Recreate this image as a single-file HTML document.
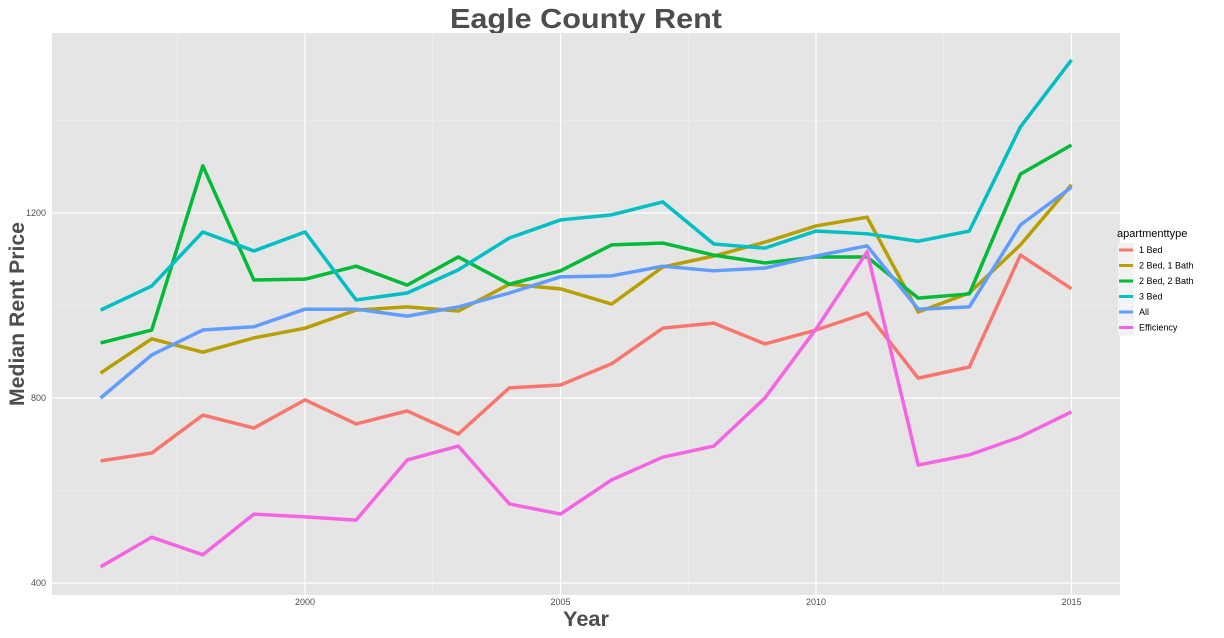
<!DOCTYPE html>
<html><head><meta charset="utf-8"><style>
body{margin:0;background:#fff;font-family:"Liberation Sans",sans-serif;}
svg text{font-family:"Liberation Sans",sans-serif;}
</style></head><body>
<svg id="chart" width="1224" height="633" xmlns="http://www.w3.org/2000/svg">
<text x="586" y="28" text-anchor="middle" font-size="28" font-weight="bold" fill="#4d4d4d" textLength="272" lengthAdjust="spacingAndGlyphs">Eagle County Rent</text>
<rect x="52" y="33" width="1068" height="562" fill="#E5E5E5"/>
<g id="grid"></g>
<g id="lines"></g>
<g id="axes"></g>
<text x="586" y="626" text-anchor="middle" font-size="21" font-weight="bold" fill="#4d4d4d" textLength="46" lengthAdjust="spacingAndGlyphs">Year</text>
<text transform="translate(24,314) rotate(-90)" text-anchor="middle" font-size="21" font-weight="bold" fill="#4d4d4d" textLength="184" lengthAdjust="spacingAndGlyphs">Median Rent Price</text>
<g id="legend"><text x="1117" y="237" font-size="11" fill="#000">apartmenttype</text></g>
</svg>
<script>
const years=[1996,1997,1998,1999,2000,2001,2002,2003,2004,2005,2006,2007,2008,2009,2010,2011,2012,2013,2014,2015];
const seriesNames=["1 Bed","2 Bed, 1 Bath","2 Bed, 2 Bath","3 Bed","All","Efficiency"];
const colors=["#F8766D","#B79F00","#00BA38","#00BFC4","#619CFF","#F564E3"];
const oneBed=[664,681,763,735,796,744,772,722,822,828,874,951,962,917,947,984,843,867,1109,1036];
const twoBedOneBath=[854,928,899,930,951,990,997,988,1046,1036,1003,1083,1107,1137,1172,1191,986,1027,1131,1261];
const twoBedTwoBath=[919,947,1302,1055,1057,1085,1044,1105,1046,1075,1131,1135,1109,1092,1105,1105,1016,1025,1284,1347];
const threeBed=[990,1042,1159,1118,1159,1012,1027,1077,1146,1185,1196,1224,1133,1124,1161,1155,1139,1161,1386,1531];
const allUnits=[800,893,947,954,992,992,977,997,1027,1062,1064,1085,1075,1081,1107,1129,992,997,1174,1256];
const efficiency=[435,499,461,549,543,536,666,696,571,549,623,672,696,800,949,1116,655,677,716,770];
const yTicks=[400,800,1200];
const xTicks=[2000,2005,2010,2015];
const series=[oneBed,twoBedOneBath,twoBedTwoBath,threeBed,allUnits,efficiency];
const NS="http://www.w3.org/2000/svg";
const xs=y=>305+(y-2000)*51.1;
const ys=v=>583-(v-400)*0.4625;
function mk(t,a,p){const e=document.createElementNS(NS,t);for(const k in a)e.setAttribute(k,a[k]);p.appendChild(e);return e;}
const g=document.getElementById('grid'),ax=document.getElementById('axes'),L=document.getElementById('lines'),lg=document.getElementById('legend');
[600,1000,1400].forEach(v=>{const l=mk('line',{x1:52,x2:1120,y1:ys(v),y2:ys(v),stroke:'#F2F2F2','stroke-width':0.6},g);

});
[1997.5,2002.5,2007.5,2012.5].forEach(v=>{const l=mk('line',{x1:xs(v),x2:xs(v),y1:33,y2:595,stroke:'#F2F2F2','stroke-width':0.6},g);

});
yTicks.forEach(v=>{const l=mk('line',{x1:52,x2:1120,y1:ys(v),y2:ys(v),stroke:'#fff','stroke-width':1.2},g);


const t=mk('text',{x:46,y:ys(v)+3,'text-anchor':'end','font-size':9,fill:'#4d4d4d'},ax);t.textContent=v;

});
xTicks.forEach(v=>{const l=mk('line',{x1:xs(v),x2:xs(v),y1:33,y2:595,stroke:'#fff','stroke-width':1.2},g);


const t=mk('text',{x:xs(v),y:605,'text-anchor':'middle','font-size':9,fill:'#4d4d4d'},ax);t.textContent=v;

});
series.forEach((s,i)=>{const p=mk('polyline',{points:s.map((v,j)=>xs(years[j])+','+ys(v)).join(' '),fill:'none',stroke:colors[i],'stroke-width':3.5,'stroke-linejoin':'round'},L);


const y0=250+i*15.5;
const k=mk('rect',{x:1118,y:y0-7,width:16,height:15,fill:'#F2F2F2'},lg);


const ln=mk('line',{x1:1119,x2:1133,y1:y0,y2:y0,stroke:colors[i],'stroke-width':3},lg);


const t=mk('text',{x:1139,y:y0+3,'font-size':9,fill:'#000'},lg);t.textContent=seriesNames[i];

});
</script>
</body></html>
